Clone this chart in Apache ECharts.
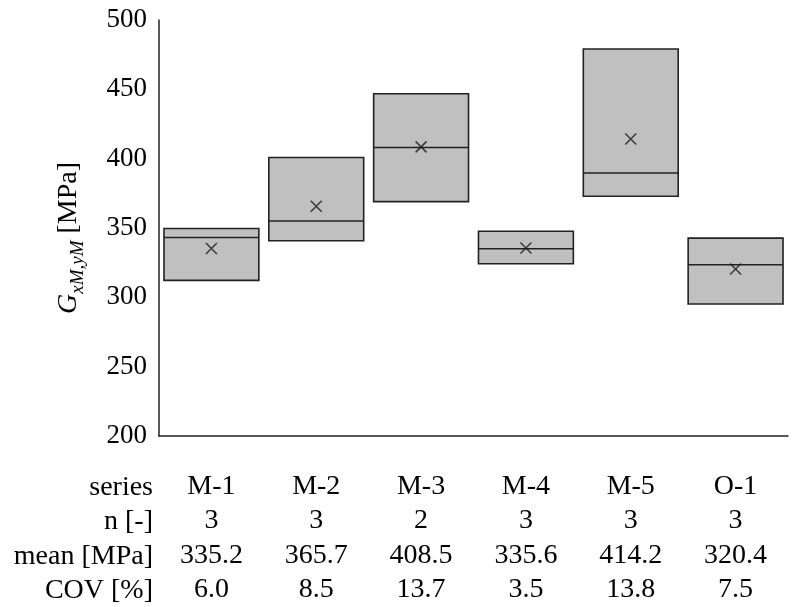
<!DOCTYPE html>
<html><head><meta charset="utf-8">
<script src="https://cdn.jsdelivr.net/npm/echarts@6/dist/echarts.min.js"></script>
<style>html,body{margin:0;padding:0;background:#fff}#c{width:792px;height:607px}</style>
</head><body><div id="c"></div>
<script>
const categories = ['M-1','M-2','M-3','M-4','M-5','O-1'];
const boxMin = [312.2, 340.8, 369.0, 324.2, 372.9, 295.2];
const boxMedian = [343.2, 355.1, 408.0, 335.0, 389.7, 323.5];
const boxMax = [349.6, 400.8, 446.8, 347.7, 479.1, 342.7];
const meanValues = [335.2, 365.7, 408.5, 335.6, 414.2, 320.4];
const nValues = ['3','3','2','3','3','3'];
const meanLabels = ['335.2','365.7','408.5','335.6','414.2','320.4'];
const covLabels = ['6.0','8.5','13.7','3.5','13.8','7.5'];
const rowHeaders = ['series','n [-]','mean [MPa]','COV [%]'];
const yTicks = {min:200, max:500, interval:50};

const font = '"Liberation Serif","Times New Roman",serif';
const chart = echarts.init(document.getElementById('c'));
const boxData = categories.map((c,i)=>[i, boxMin[i], boxMedian[i], boxMax[i]]);

chart.setOption({
  animation:false,
  grid:{left:159, right:4, top:20, bottom:170},
  xAxis:{
    type:'category', data:categories,
    axisLine:{show:true, lineStyle:{color:'#222', width:1.5}},
    axisTick:{show:false},
    splitLine:{show:false},
    axisLabel:{
      interval:0, margin:33, color:'#000', fontFamily:font, fontSize:28, lineHeight:34.5,
      formatter:(v,i)=>[v, nValues[i], meanLabels[i], covLabels[i]].join('\n')
    }
  },
  yAxis:{
    type:'value', min:yTicks.min, max:yTicks.max, interval:yTicks.interval,
    axisLine:{show:true, lineStyle:{color:'#222', width:1.5}},
    axisTick:{show:false},
    splitLine:{show:false},
    axisLabel:{color:'#000', fontFamily:font, fontSize:27, margin:12},
    name:'{g|G}{s|xM,yM}{n| [MPa]}',
    nameLocation:'middle', nameRotate:90, nameGap:76,
    nameTextStyle:{
      padding:[0,20,0,0],
      rich:{
        g:{fontFamily:font, fontSize:28, fontStyle:'italic', color:'#000', verticalAlign:'bottom'},
        s:{fontFamily:font, fontSize:19, fontStyle:'italic', color:'#000', verticalAlign:'bottom', padding:[0,0,-4,0]},
        n:{fontFamily:font, fontSize:28, color:'#000', verticalAlign:'bottom'}
      }
    }
  },
  graphic:[{
    type:'text', x:153, y:470,
    style:{text:rowHeaders.join('\n'), font:'28px '+font, fill:'#000', align:'right', verticalAlign:'top', lineHeight:34.5}
  }],
  series:[
    {
      type:'custom', data:boxData,
      renderItem:(params, api)=>{
        const x = api.value(0);
        const pTop = api.coord([x, api.value(3)]);
        const pBot = api.coord([x, api.value(1)]);
        const pMed = api.coord([x, api.value(2)]);
        const w = api.size([1,0])[0]*0.905;
        const x0 = pTop[0]-w/2;
        return {type:'group', children:[
          {type:'rect', shape:{x:x0, y:pTop[1], width:w, height:pBot[1]-pTop[1]},
           style:{fill:'#c0c0c0', stroke:'#222', lineWidth:1.6}},
          {type:'line', shape:{x1:x0, y1:pMed[1], x2:x0+w, y2:pMed[1]},
           style:{stroke:'#222', lineWidth:1.5}}
        ]};
      },
      z:2
    },
    {
      type:'scatter', data:meanValues.map((v,i)=>[i,v]),
      symbol:'path://M0,0L10,10M10,0L0,10', symbolSize:11,
      itemStyle:{color:'none', borderColor:'#1a1a1a', borderWidth:1.6},
      z:3
    }
  ]
});
</script></body></html>
